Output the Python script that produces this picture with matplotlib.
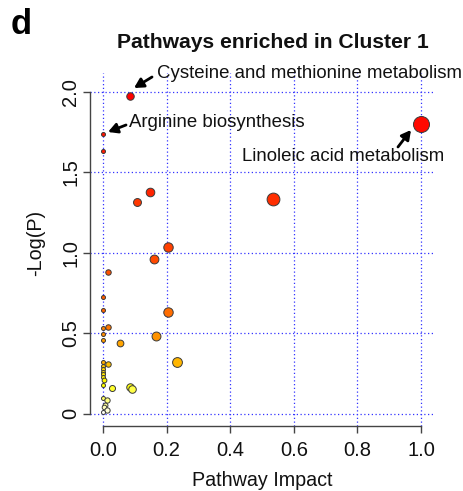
import numpy as np
import matplotlib
matplotlib.use("Agg")
import matplotlib.pyplot as plt
import colorsys

plt.rcParams['font.family'] = ['Liberation Sans', 'DejaVu Sans']

# Pathway impact (x) and -log(p) (y), ordered by decreasing -log(p)
impact = [0.085, 1.0, 0.0, 0.0, 0.147, 0.536, 0.106, 0.205, 0.161, 0.015,
          0.0, 0.0, 0.205, 0.015, 0.0, 0.0, 0.167, 0.0, 0.052, 0.0,
          0.234, 0.015, 0.0, 0.0, 0.0, 0.0, 0.0, 0.004, 0.0, 0.085,
          0.029, 0.09, 0.0, 0.012, 0.006, 0.012, 0.0, 0.003]
neglogp = [1.977, 1.80, 1.737, 1.635, 1.379, 1.337, 1.317, 1.039, 0.963, 0.884,
           0.725, 0.644, 0.632, 0.540, 0.536, 0.495, 0.487, 0.458, 0.441, 0.325,
           0.323, 0.309, 0.300, 0.280, 0.262, 0.245, 0.230, 0.211, 0.180, 0.165,
           0.163, 0.155, 0.097, 0.087, 0.056, 0.025, 0.012, 0.040]

labels = ["Cysteine and methionine metabolism", "Arginine biosynthesis",
          "Linoleic acid metabolism"]

x = np.array(impact)
y = np.array(neglogp)
order = np.argsort(-y, kind='stable')
x = x[order]; y = y[order]
n = len(y)

# R heat.colors(n)
def heat_colors(n):
    j = n // 4
    i = n - j
    cols = []
    for h in np.linspace(0, 1/6, i):
        cols.append(colorsys.hsv_to_rgb(h, 1, 1))
    if j > 0:
        for s in np.linspace(1 - 1/(2*j), 1/(2*j), j):
            cols.append(colorsys.hsv_to_rgb(1/6, s, 1))
    return cols

cols = heat_colors(n)
sq = np.sqrt(x)
rad_px = 2.0 + 6.0 * (sq - sq.min()) / (sq.max() - sq.min())
sizes = (2 * rad_px * 0.72) ** 2

fig = plt.figure(figsize=(4.64, 4.91), dpi=100)
W, H = 464, 491
ax = fig.add_axes([90/W, (H-426)/H, (434-90)/W, (426-73)/H])
ax.set_xlim(-0.041, 1.041)
ax.set_ylim(-0.075, 2.118)

xt = [0.0, 0.2, 0.4, 0.6, 0.8, 1.0]
yt = [0.0, 0.5, 1.0, 1.5, 2.0]
for v in xt:
    ax.axvline(v, color='#3333ff', lw=0.9, ls=(0, (1, 2)), zorder=1)
for v in yt:
    ax.axhline(v, color='#3333ff', lw=0.9, ls=(0, (1, 2)), zorder=1)

for k in range(n):
    ax.scatter([x[k]], [y[k]], s=sizes[k], c=[cols[k]], edgecolors='#3a3a3a',
               linewidths=0.7, zorder=3 + k * 0.01, clip_on=False)

for s in ['top', 'right']:
    ax.spines[s].set_visible(False)
ax.spines['left'].set_bounds(0, 2)
ax.spines['bottom'].set_bounds(0, 1)
for s in ['left', 'bottom']:
    ax.spines[s].set_color('#444444')
    ax.spines[s].set_linewidth(1.0)

ax.set_xticks(xt)
ax.set_xticklabels(['0.0', '0.2', '0.4', '0.6', '0.8', '1.0'])
ax.set_yticks(yt)
ax.set_yticklabels(['0', '0.5', '1.0', '1.5', '2.0'], rotation=90, va='center')
ax.tick_params(axis='both', direction='out', length=5, width=1.0, color='#444444',
               labelsize=14.5, labelcolor='#111111')
ax.tick_params(axis='x', pad=6)
ax.tick_params(axis='y', pad=2)

fig.text(262/W, 1 - 480/H, 'Pathway Impact', ha='center', va='center', fontsize=14.2, color='#111111')
fig.text(36/W, 1 - 243/H, '-Log(P)', ha='center', va='center', rotation=90, fontsize=14.2, color='#111111')
fig.text(273/W, 1 - 42/H, 'Pathways enriched in Cluster 1', ha='center', va='center',
         fontsize=15.2, fontweight='bold', color='#111111')
fig.text(21/W, 1 - 25/H, 'd', ha='center', va='center', fontsize=25, fontweight='bold', color='black')

def px2d(px, py):
    return ((px - 103) / 318.0, (414 - py) / 161.0)

# label positions (pixel space -> data)
text_pos = [(157, 74, 'left'), (129, 123, 'left'), (343.5, 157, 'center')]
arrows = [((152, 77), (134, 88)), ((126, 125), (108, 132)), ((398, 147), (411, 130))]
for lab, (tx, ty, ha), (tail, head) in zip(labels, text_pos, arrows):
    dx, dy = px2d(tx, ty)
    ax.text(dx, dy, lab, ha=ha, va='center', fontsize=13.4, color='#111111', zorder=10)
    ax.annotate('', xy=px2d(*head), xytext=px2d(*tail),
                arrowprops=dict(arrowstyle='-|>,head_length=0.55,head_width=0.3',
                                lw=2.0, color='black', shrinkA=0, shrinkB=0),
                zorder=10, annotation_clip=False)

fig.savefig('out.png', dpi=100)
